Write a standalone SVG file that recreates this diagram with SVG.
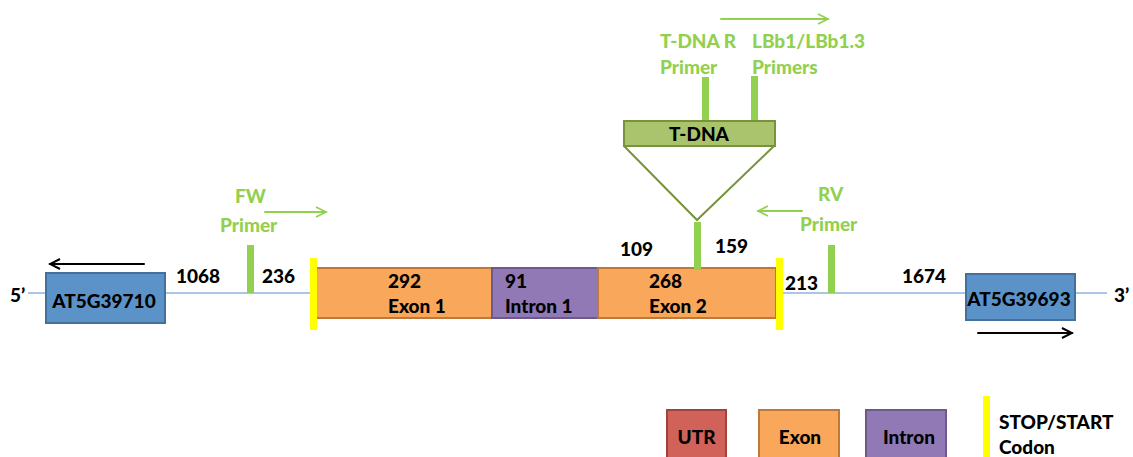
<svg xmlns="http://www.w3.org/2000/svg" width="1133" height="457" viewBox="0 0 1133 457">
  <style>
    text { font-family: Lato, "Liberation Sans", sans-serif; font-weight: 900; font-size: 19px; fill: #000; }
    .g { fill: #92d050; }
    .mid { text-anchor: middle; }
    .gene { fill: #5b93c8; stroke: #41719c; stroke-width: 2; }
    .exon { fill: #f9a75a; stroke: #c0773a; stroke-width: 2; }
    .intron { fill: #9079b5; stroke: #6b5a8a; stroke-width: 2; }
    .utr { fill: #d0625a; stroke: #a0433d; stroke-width: 2; }
    .codon { fill: #ffff00; }
    .bar { fill: #92d050; }
    .dna { stroke: #8db3e2; stroke-width: 1.5; }
    .arr { fill: none; stroke-width: 2; stroke-linecap: round; stroke-linejoin: round; }
  </style>
  <defs>
    <marker id="headBlack" markerWidth="14" markerHeight="12" refX="12" refY="6" orient="auto" markerUnits="userSpaceOnUse">
      <path d="M2,1 L12,6 L2,11" fill="none" stroke="#000" stroke-width="2"/>
    </marker>
    <marker id="headGreen" markerWidth="14" markerHeight="12" refX="12" refY="6" orient="auto" markerUnits="userSpaceOnUse">
      <path d="M2,1 L12,6 L2,11" fill="none" stroke="#92d050" stroke-width="1.6"/>
    </marker>
  </defs>

  <!-- connectors: chromosome line, direction arrows, primer arrows -->
  <g id="connectors">
    <line class="dna" x1="28" y1="293" x2="1107" y2="293"/>
    <line class="arr" x1="144" y1="264" x2="50" y2="264" stroke="#000" marker-end="url(#headBlack)"/>
    <line class="arr" x1="978" y1="333" x2="1072" y2="333" stroke="#000" marker-end="url(#headBlack)"/>
    <line class="arr" x1="265" y1="212" x2="326" y2="212" stroke="#92d050" stroke-width="1.6" marker-end="url(#headGreen)"/>
    <line class="arr" x1="802" y1="211" x2="758" y2="211" stroke="#92d050" stroke-width="1.6" marker-end="url(#headGreen)"/>
    <line class="arr" x1="721" y1="19" x2="828" y2="19" stroke="#92d050" stroke-width="1.6" marker-end="url(#headGreen)"/>
    <!-- insertion triangle -->
    <polyline points="624,146 697,220 774,146" fill="none" stroke="#77933c" stroke-width="2"/>
  </g>

  <text x="10" y="302">5’</text>
  <text x="1114" y="302">3’</text>

  <!-- flanking genes -->
  <g id="gene-left">
    <rect class="gene" x="46" y="273" width="119" height="50"/>
    <text class="mid" x="104" y="308">AT5G39710</text>
  </g>
  <g id="gene-right">
    <rect class="gene" x="966" y="274" width="109" height="46"/>
    <text class="mid" x="1019" y="306">AT5G39693</text>
  </g>

  <!-- intergenic distances -->
  <text x="176" y="283">1068</text>
  <text x="262" y="283">236</text>
  <text x="785" y="290">213</text>
  <text x="902" y="283">1674</text>

  <!-- FW primer -->
  <g id="fw-primer">
    <rect class="bar" x="247" y="245" width="7" height="48"/>
    <text class="g" x="235" y="203">FW</text>
    <text class="g" x="220" y="232">Primer</text>
  </g>

  <!-- RV primer -->
  <g id="rv-primer">
    <rect class="bar" x="828" y="245" width="7" height="48"/>
    <text class="g" x="818" y="201">RV</text>
    <text class="g" x="800" y="231">Primer</text>
  </g>

  <!-- exons and intron -->
  <g id="exon1">
    <rect class="exon" x="316" y="268" width="176" height="50"/>
    <text x="388" y="288">292</text>
    <text x="388" y="313">Exon 1</text>
  </g>
  <g id="intron1">
    <rect class="intron" x="492" y="268" width="106" height="50"/>
    <text x="505" y="288">91</text>
    <text x="505" y="313">Intron 1</text>
  </g>
  <g id="exon2">
    <rect class="exon" x="598" y="268" width="178" height="50"/>
    <text x="649" y="288">268</text>
    <text x="649" y="313">Exon 2</text>
  </g>

  <!-- start / stop codons -->
  <g id="codons">
    <rect class="codon" x="310" y="258" width="7" height="72"/>
    <rect class="codon" x="776" y="258" width="7" height="72"/>
  </g>

  <!-- insertion site -->
  <g id="insertion">
    <rect class="bar" x="694" y="222" width="7" height="48"/>
    <text x="620" y="256">109</text>
    <text x="715" y="253">159</text>
  </g>

  <!-- T-DNA and its primers -->
  <g id="tdna">
    <rect class="bar" x="702" y="77" width="7" height="44"/>
    <rect class="bar" x="751" y="76" width="7" height="45"/>
    <rect x="624" y="121" width="151" height="25" fill="#a9c46c" stroke="#77933c" stroke-width="2"/>
    <text class="mid" x="699" y="141">T-DNA</text>
  </g>
  <g id="tdna-primers">
    <text class="g" x="660" y="48">T-DNA R</text>
    <text class="g" x="660" y="74">Primer</text>
    <text class="g" x="752" y="48">LBb1/LBb1.3</text>
    <text class="g" x="752" y="74">Primers</text>
  </g>

  <!-- legend -->
  <g id="legend-utr">
    <rect class="utr" x="667" y="410" width="59" height="56"/>
    <text class="mid" x="696.5" y="444">UTR</text>
  </g>
  <g id="legend-exon">
    <rect class="exon" x="759" y="410" width="80" height="56"/>
    <text class="mid" x="800" y="444">Exon</text>
  </g>
  <g id="legend-intron">
    <rect class="intron" x="866" y="410" width="80" height="56"/>
    <text class="mid" x="909" y="444">Intron</text>
  </g>
  <g id="legend-codon">
    <rect class="codon" x="983" y="396" width="7" height="61"/>
    <text x="999" y="429">STOP/START</text>
    <text x="999" y="454">Codon</text>
  </g>
</svg>
